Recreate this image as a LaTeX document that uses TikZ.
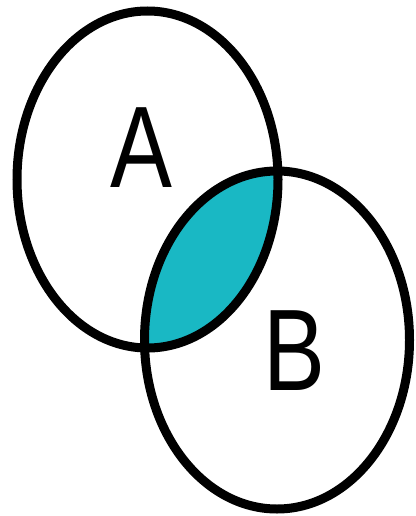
\documentclass[tikz,border=0pt]{standalone}
\usepackage{fontspec}
\setmainfont{Liberation Sans}
\definecolor{lensfill}{RGB}{25,184,196}
\begin{document}
\begin{tikzpicture}[x=1pt,y=-1pt,
  setline/.style={draw=black,line width=9pt},
  letter/.style={inner sep=0pt,font=\fontsize{116}{116}\selectfont,xscale=0.8}]
\useasboundingbox[fill=white] (0,0) rectangle (415,516);
\begin{scope}
  \clip (147.5,179.5) ellipse [x radius=130.5, y radius=168.5];
  \fill[lensfill] (277,340) ellipse [x radius=132.5, y radius=169];
\end{scope}
\path[setline] (147.5,179.5) ellipse [x radius=130.5, y radius=168.5];
\path[setline] (277,340) ellipse [x radius=132.5, y radius=169];
\node[letter] (labA) at (141,147.5) {A};
\node[letter] (labB) at (294,351) {B};
\end{tikzpicture}
\end{document}
